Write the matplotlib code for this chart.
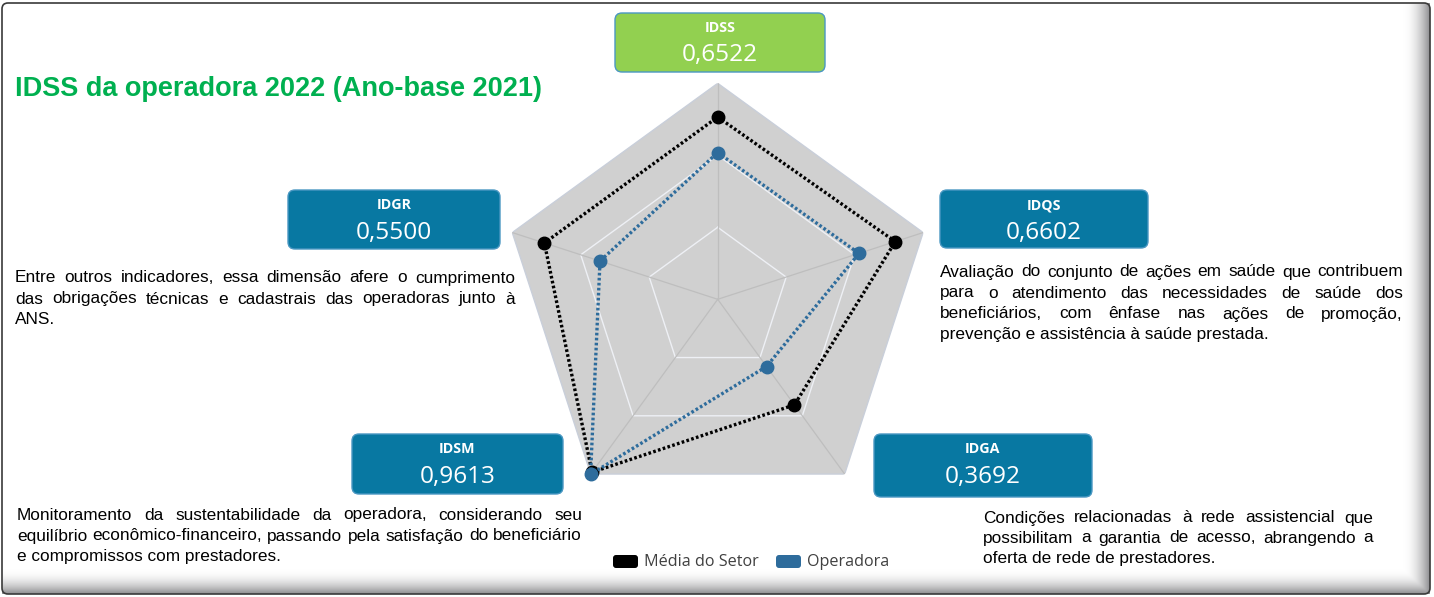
import matplotlib
matplotlib.use('Agg')
import matplotlib.pyplot as plt
import numpy as np
from matplotlib.patches import FancyBboxPatch
from matplotlib.font_manager import FontProperties

# ---------------- data ----------------
indicators = ['IDSS', 'IDQS', 'IDGA', 'IDSM', 'IDGR']
operadora = [0.6522, 0.6602, 0.3692, 0.9613, 0.5500]
media_setor = [0.81, 0.83, 0.58, 0.95, 0.81]
series_names = ['Média do Setor', 'Operadora']
r_max = 0.96
grid_levels = [0.32, 0.64, 0.96]

title = "IDSS da operadora 2022 (Ano-base 2021)"
descriptions = {
    'IDGR': ["Entre outros indicadores, essa dimensão afere o cumprimento",
             "das obrigações técnicas e cadastrais das operadoras junto à",
             "ANS."],
    'IDQS': ["Avaliação do conjunto de ações em saúde que contribuem",
             "para o atendimento das necessidades de saúde dos",
             "beneficiários, com ênfase nas ações de promoção,",
             "prevenção e assistência à saúde prestada."],
    'IDGA': ["Condições relacionadas à rede assistencial que",
             "possibilitam a garantia de acesso, abrangendo a",
             "oferta de rede de prestadores."],
    'IDSM': ["Monitoramento da sustentabilidade da operadora, considerando seu",
             "equilíbrio econômico-financeiro, passando pela satisfação do beneficiário",
             "e compromissos com prestadores."],
}

# ---------------- layout (pixels) ----------------
W, H, DPI = 1434, 597, 100
BLUE_BOX = '#0878A2'
GREEN_BOX = '#92D050'
box_layout = {
    'IDSS': (615, 13, 825, 72, GREEN_BOX),
    'IDGR': (288, 190, 500, 249, BLUE_BOX),
    'IDQS': (940, 190, 1148, 248, BLUE_BOX),
    'IDSM': (352, 434, 563, 494, BLUE_BOX),
    'IDGA': (874, 434, 1092, 497, BLUE_BOX),
}
text_layout = {
    'IDGR': (15, 515, 278, 21),
    'IDQS': (940, 1403, 272, 21),
    'IDGA': (983, 1373, 518, 20),
    'IDSM': (17, 582, 515, 21),
}
center = (717.7, 299.3)
radius_px = 216.0

fig = plt.figure(figsize=(W / DPI, H / DPI), dpi=DPI)
fig.patch.set_facecolor('white')

ov = fig.add_axes([0, 0, 1, 1], zorder=0)
ov.axis('off')

# frame with shadow (single shading image)
fx0, fy0, fx1, fy1 = 2, 3, 1430, 594
xs = np.linspace(fx0, fx1, 715)
ys = np.linspace(fy0, fy1, 296)
XX, YY = np.meshgrid(xs, ys)
gb = np.clip((YY - 570) / (fy1 - 570), 0, 1)
gr = np.clip((XX - 1404) / (fx1 - 1404), 0, 1)
g = np.maximum(gb, gr) ** 2
shade = 1 - 0.42 * g
ov.imshow(np.dstack([shade, shade, shade * 1.0 + 0.01 * g]).clip(0, 1),
          extent=(fx0, fx1, fy1, fy0), aspect='auto', zorder=0.5,
          interpolation='bilinear')
ov.add_patch(FancyBboxPatch((fx0, fy0), fx1 - fx0, fy1 - fy0,
                            boxstyle='round,pad=0,rounding_size=6',
                            fill=False, edgecolor='#3a3a3a', lw=1.2, zorder=1))
ov.set_xlim(0, W)
ov.set_ylim(H, 0)

body_fp = FontProperties(family='Liberation Sans', size=12.4)
title_fp = FontProperties(family='Liberation Sans', size=19.5, weight='bold')
box_lab_fp = FontProperties(family='Open Sans', size=10.3, weight='bold')
box_val_fp = FontProperties(family='Open Sans', size=17.6)
leg_fp = FontProperties(family='Open Sans', size=11.6)

ov.text(15, 89, title, fontproperties=title_fp, color='#00B050', ha='left', va='center')

# indicator boxes
values_by_ind = dict(zip(indicators, operadora))
for ind in indicators:
    x0, y0, x1, y1, col = box_layout[ind]
    ov.add_patch(FancyBboxPatch((x0, y0), x1 - x0, y1 - y0,
                                boxstyle='round,pad=0,rounding_size=7',
                                facecolor=col, edgecolor='#4A97C2', lw=1.0, zorder=2))
    cx = (x0 + x1) / 2
    ov.text(cx, y0 + 15, ind, fontproperties=box_lab_fp, color='white',
            ha='center', va='center', zorder=3)
    ov.text(cx, y0 + 42.5, f"{values_by_ind[ind]:.4f}".replace('.', ','),
            fontproperties=box_val_fp, color='white', ha='center', va='center', zorder=3)

# justified descriptions
renderer = fig.canvas.get_renderer()


def tw(s):
    w, h, d = renderer.get_text_width_height_descent(s, body_fp, ismath=False)
    return w


for ind, lines in descriptions.items():
    x0, x1, y, dy = text_layout[ind]
    for i, line in enumerate(lines):
        yy = y + i * dy
        words = line.split(' ')
        if i == len(lines) - 1 or len(words) == 1:
            ov.text(x0, yy, line, fontproperties=body_fp, color='black',
                    ha='left', va='center')
            continue
        widths = [tw(w) for w in words]
        gap = (x1 - x0 - sum(widths)) / (len(words) - 1)
        xx = x0
        for w, wd in zip(words, widths):
            ov.text(xx, yy, w, fontproperties=body_fp, color='black',
                    ha='left', va='center')
            xx += wd + gap

# legend
leg_colors = ['#000000', '#2E6C9C']
leg_x = [613, 776]
for name, col, lx in zip(series_names, leg_colors, leg_x):
    ov.add_patch(FancyBboxPatch((lx, 555), 25, 13, boxstyle='round,pad=0,rounding_size=3',
                                facecolor=col, edgecolor='none', zorder=2))
    ov.text(lx + 31, 561.5, name, fontproperties=leg_fp, color='#404040',
            ha='left', va='center')

# ---------------- radar ----------------
left = (center[0] - radius_px) / W
bottom = (H - (center[1] + radius_px)) / H
ax = fig.add_axes([left, bottom, 2 * radius_px / W, 2 * radius_px / H],
                  projection='polar', zorder=1)
ax.set_theta_offset(np.pi / 2)
ax.set_theta_direction(-1)
ax.set_ylim(0, r_max)
ax.axis('off')

n = len(indicators)
theta = np.linspace(0, 2 * np.pi, n, endpoint=False)
theta_c = np.append(theta, theta[0])

ax.fill(theta_c, [r_max] * (n + 1), color='#D0D0D0', zorder=1, lw=0)
ax.plot(theta_c, [r_max] * (n + 1), color='#C9CFDA', lw=1.0, zorder=1.5)
for lvl in grid_levels[:-1]:
    ax.plot(theta_c, [lvl] * (n + 1), color='#EEF0F5', lw=1.0, zorder=2)
for t in theta:
    ax.plot([t, t], [0, r_max], color='#BEBEBE', lw=0.9, zorder=2)

med_c = np.append(media_setor, media_setor[0])
op_c = np.append(operadora, operadora[0])
ax.plot(theta_c, med_c, color='black', lw=2.4, linestyle=(0, (0.8, 0.7)), zorder=3)
ax.plot(theta, media_setor, 'o', color='black', ms=9, zorder=4, clip_on=False)
ax.plot(theta_c, op_c, color='#2E6C9C', lw=2.4, linestyle=(0, (0.8, 0.7)), zorder=5)
ax.plot(theta, operadora, 'o', color='#2E6C9C', ms=9, zorder=6, clip_on=False)

fig.savefig('out.png', dpi=DPI)
